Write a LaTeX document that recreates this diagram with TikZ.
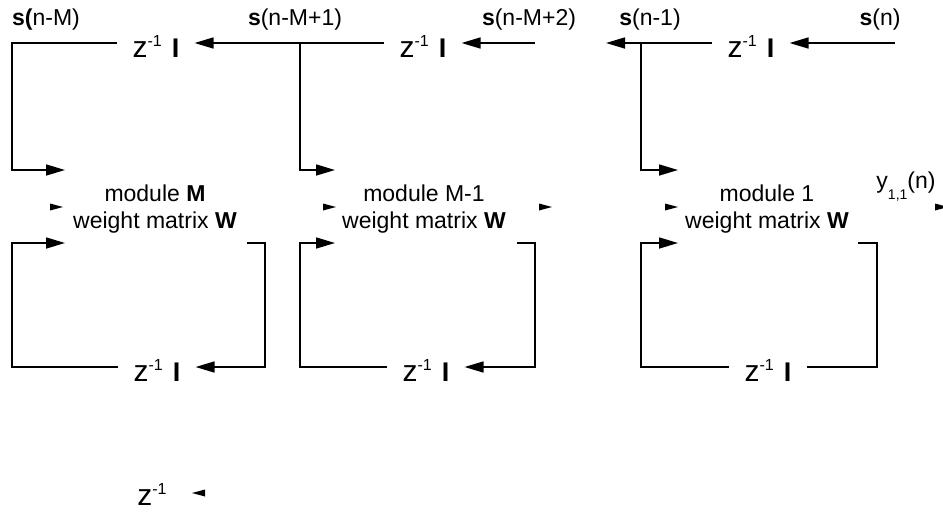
\documentclass[tikz,border=0pt]{standalone}
\usepackage{fontspec}
\setmainfont{Liberation Sans}
\usetikzlibrary{arrows.meta,positioning,calc}
\newcommand{\zinv}{{\fontsize{30}{30}\selectfont z}\raisebox{11pt}{\fontsize{16}{16}\selectfont -1}}

\begin{document}
\begin{tikzpicture}[x=1pt,y=-1pt,
  delay/.style={inner xsep=15pt,inner ysep=0pt,text height=28pt,text depth=0pt,
                font=\fontsize{27}{29}\selectfont},
  module/.style={align=center,inner sep=0pt,font=\fontsize{23}{27}\selectfont},
  lbl/.style={anchor=base,inner sep=0pt,font=\fontsize{23}{26}\selectfont},
  arr/.style={-{Triangle[length=19pt,width=11pt]},line width=1.6pt},
  wire/.style={line width=1.6pt},
  tipr/.pic={\fill (0,0) -- (-13,-3.5) -- (-13,3.5) -- cycle;},
  tipl/.pic={\fill (0,0) -- (13,-3.5) -- (13,3.5) -- cycle;}
]
  \useasboundingbox (0,0) rectangle (943,512);
  % Signal labels
  \node[lbl] (sM)   at (46,25)  {\textbf{s(}n-M)};
  \node[lbl] (sM1)  at (295,25) {\textbf{s}(n-M+1)};
  \node[lbl] (sM2)  at (529,25) {\textbf{s}(n-M+2)};
  \node[lbl] (sn1)  at (650,25) {\textbf{s}(n-1)};
  \node[lbl] (sn)   at (880,25) {\textbf{s}(n)};
  \node[lbl] (yout) at (906,188) {y\raisebox{-11pt}{\fontsize{14}{14}\selectfont 1,1}(n)};
  % Delay line
  \node[delay] (d1t) at (156,43) {\zinv\hspace{10pt}\textbf{I}};
  \node[delay] (d2t) at (423,43) {\zinv\hspace{10pt}\textbf{I}};
  \node[delay] (d3t) at (751,43) {\zinv\hspace{10pt}\textbf{I}};
  % Feedback delays
  \node[delay] (d1b) at (157,367) {\zinv\hspace{10pt}\textbf{I}};
  \node[delay] (d2b) at (426,367) {\zinv\hspace{10pt}\textbf{I}};
  \node[delay] (d3b) at (768,367) {\zinv\hspace{10pt}\textbf{I}};
  % Modules
  \node[module] (modM)  at (155,209.5) {module \textbf{M}\\weight matrix \textbf{W}};
  \node[module] (modM1) at (424,209.5) {module M-1\\weight matrix \textbf{W}};
  \node[module] (mod1)  at (767,209.5) {module 1\\weight matrix \textbf{W}};
  \node[lbl] (zlone) at (152,505) {\zinv};
  % Ports
  \coordinate (railM) at (12,0);
  \coordinate (br2)  at (300,43);
  \coordinate (br3)  at (641,43);
  \coordinate (in2)  at (535,43);
  \coordinate (in3)  at (895,43);
  \coordinate (out3) at (606,43);
  \coordinate (mMa)  at (65,170);
  \coordinate (mMb)  at (65,243);
  \coordinate (mMo)  at (247,243);
  \coordinate (mM1a) at (335,170);
  \coordinate (mM1b) at (335,243);
  \coordinate (mM1o) at (517,243);
  \coordinate (m1a)  at (678,170);
  \coordinate (m1b)  at (678,243);
  \coordinate (m1o)  at (858,243);
  % Delay line flows
  \draw[arr] (in3) -- (d3t.east);
  \draw[arr] (d3t.west) -- (out3);
  \draw[arr] (br3) |- (m1a);
  \draw[arr] (in2) -- (d2t.east);
  \draw[arr] (d2t.west) -- (d1t.east);
  \draw[arr] (br2) |- (mM1a);
  \draw[arr] (d1t.west) -| (mMa -| railM) -- (mMa);
  % Feedback loops
  \draw[arr] (mMo) -- ++(18,0) |- (d1b.east);
  \draw[arr] (d1b.west) -| (mMb -| railM) -- (mMb);
  \draw[arr] (mM1o) -- ++(18,0) |- (d2b.east);
  \draw[arr] (d2b.west) -| (mM1b -| br2) -- (mM1b);
  \draw[wire] (m1o) -- ++(19,0) |- (d3b.east);
  \draw[arr] (d3b.west) -| (m1b -| br3) -- (m1b);
  % Loose tips
  \pic at (63,207) {tipr};
  \pic at (336,207) {tipr};
  \pic at (552,207) {tipr};
  \pic at (678,207) {tipr};
  \pic at (948,207) {tipr};
  \pic at (192,493) {tipl};
\end{tikzpicture}
\end{document}
